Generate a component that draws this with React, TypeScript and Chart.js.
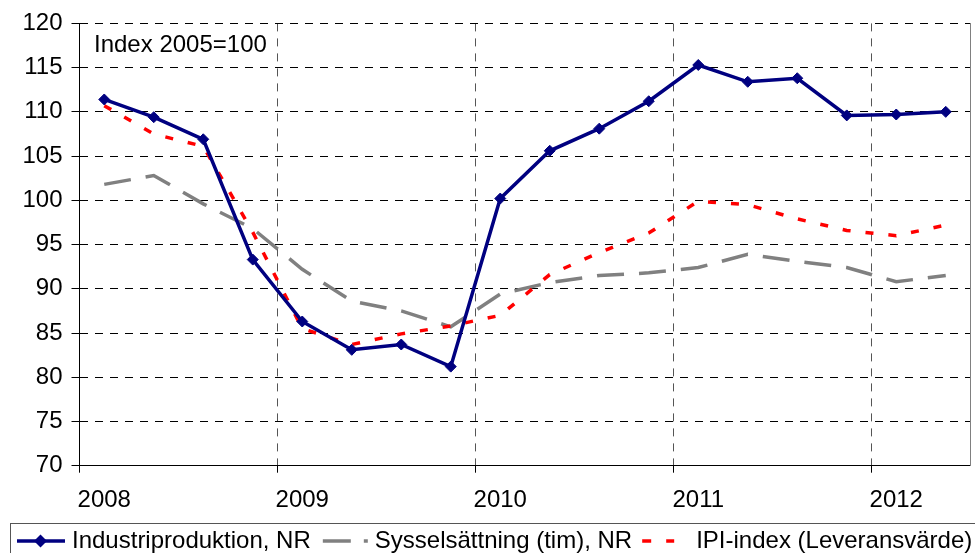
import React, { useEffect, useRef } from 'react';
import { Chart, registerables } from 'chart.js';

Chart.register(...registerables);

// ---- data ----
const categories = [
  '2008K1', '2008K2', '2008K3', '2008K4',
  '2009K1', '2009K2', '2009K3', '2009K4',
  '2010K1', '2010K2', '2010K3', '2010K4',
  '2011K1', '2011K2', '2011K3', '2011K4',
  '2012K1', '2012K2',
];
const industri = [111.4, 109.4, 106.9, 93.3, 86.3, 83.1, 83.7, 81.2, 100.2, 105.6, 108.1, 111.2, 115.3, 113.4, 113.8, 109.6, 109.7, 110.0];
const syssel = [101.8, 102.8, 99.6, 96.8, 92.2, 88.6, 87.5, 85.7, 89.4, 90.7, 91.5, 91.8, 92.4, 93.9, 93.1, 92.4, 90.8, 91.5];
const ipi = [110.7, 107.5, 106.1, 96.4, 85.5, 83.7, 84.9, 85.8, 87.0, 91.6, 94.1, 96.3, 99.9, 99.5, 97.9, 96.6, 96.0, 97.2];
const seriesNames = ['Industriproduktion, NR', 'Sysselsättning (tim), NR', 'IPI-index (Leveransvärde)'];
const yMin = 70;
const yMax = 120;
const yStep = 5;
const annotationText = 'Index 2005=100';

const FONT = '"Liberation Sans", Arial, Helvetica, sans-serif';
const BLUE = '#000080';
const GRAY = '#808080';
const RED = '#FF0000';

function makeSymbol(kind: number): HTMLCanvasElement {
  const c = document.createElement('canvas');
  c.width = 92;
  c.height = 16;
  const g = c.getContext('2d')!;
  const off = 23;
  const y = 8;
  g.lineWidth = 3.5;
  g.lineCap = 'butt';
  const seg = (a: number, b: number, col: string) => {
    g.strokeStyle = col;
    g.beginPath();
    g.moveTo(off + a, y);
    g.lineTo(off + b, y);
    g.stroke();
  };
  if (kind === 0) {
    seg(3, 51, BLUE);
    const cx = off + 26.5;
    const r = 6.5;
    g.fillStyle = BLUE;
    g.beginPath();
    g.moveTo(cx, y - r);
    g.lineTo(cx + r, y);
    g.lineTo(cx, y + r);
    g.lineTo(cx - r, y);
    g.closePath();
    g.fill();
  } else if (kind === 1) {
    seg(6, 34, GRAY);
    seg(47, 51, GRAY);
  } else {
    seg(4, 13, RED);
    seg(28, 36, RED);
  }
  return c;
}

export default function App() {
  const ref = useRef<HTMLCanvasElement | null>(null);

  useEffect(() => {
    if (!ref.current) return;
    const symbols = [makeSymbol(0), makeSymbol(1), makeSymbol(2)];
    const colors = [BLUE, GRAY, RED];

    const extras = {
      id: 'extras',
      afterDraw(chart: any) {
        const { ctx, chartArea } = chart;
        ctx.save();
        // annotation text
        ctx.font = `24px ${FONT}`;
        ctx.fillStyle = '#000';
        ctx.textBaseline = 'alphabetic';
        ctx.textAlign = 'left';
        ctx.fillText(annotationText, chartArea.left + 14.5, chartArea.top + 28.5);
        // legend frame
        const lg = chart.legend;
        ctx.strokeStyle = '#555';
        ctx.lineWidth = 1;
        ctx.strokeRect(10.5, Math.round(lg.top) + 0.5, 1000, 80);
        ctx.restore();
      },
    };

    const chart = new Chart(ref.current, {
      type: 'line',
      data: {
        labels: categories,
        datasets: [
          {
            label: seriesNames[0],
            data: industri,
            borderColor: BLUE,
            backgroundColor: BLUE,
            borderWidth: 3.5,
            pointStyle: 'rectRot',
            pointRadius: 5.5,
            pointBorderWidth: 1,
            pointBackgroundColor: BLUE,
            pointBorderColor: BLUE,
            tension: 0,
            order: 0,
          },
          {
            label: seriesNames[1],
            data: syssel,
            borderColor: GRAY,
            backgroundColor: GRAY,
            borderWidth: 3.5,
            borderDash: [27, 15],
            pointRadius: 0,
            tension: 0,
            order: 2,
          },
          {
            label: seriesNames[2],
            data: ipi,
            borderColor: RED,
            backgroundColor: RED,
            borderWidth: 3.5,
            borderDash: [8, 15],
            pointRadius: 0,
            tension: 0,
            order: 1,
          },
        ],
      },
      options: {
        animation: false,
        responsive: false,
        events: [],
        layout: { padding: { left: 8, right: 0, top: 22.5, bottom: 0 } },
        font: { family: FONT, size: 24 },
        plugins: {
          tooltip: { enabled: false },
          legend: {
            display: true,
            position: 'bottom',
            align: 'start',
            maxHeight: 30,
            labels: {
              usePointStyle: true,
              pointStyleWidth: 46,
              boxHeight: 24,
              padding: 6,
              color: '#000',
              font: { family: FONT, size: 24 },
              generateLabels: () =>
                seriesNames.map((name, i) => ({
                  text: name,
                  fillStyle: colors[i],
                  strokeStyle: colors[i],
                  lineWidth: 0,
                  pointStyle: symbols[i],
                  hidden: false,
                  datasetIndex: i,
                  fontColor: '#000',
                })),
            },
          },
        },
        scales: {
          x: {
            type: 'category',
            offset: true,
            grid: {
              offset: true,
              color: (c: any) => (c.index % 4 === 0 && c.index > 0 && c.index < categories.length ? '#555' : 'rgba(0,0,0,0)'),
              tickColor: (c: any) => (c.index % 4 === 0 ? '#000' : 'rgba(0,0,0,0)'),
              tickLength: 7,
              lineWidth: 1,
              tickBorderDash: [],
            },
            border: { display: true, color: '#000', width: 1, dash: [8, 7] },
            ticks: {
              autoSkip: false,
              maxRotation: 0,
              minRotation: 0,
              padding: 13.6,
              color: '#000',
              font: { family: FONT, size: 24 },
              callback: function (this: any, value: any, index: number) {
                return index % 4 === 0 ? String(this.getLabelForValue(value)).slice(0, 4) : '';
              },
            },
            afterFit: (s: any) => {
              s.height = 57.3;
            },
          },
          y: {
            type: 'linear',
            min: yMin,
            max: yMax,
            grid: {
              color: '#000',
              tickColor: '#000',
              tickLength: 8,
              lineWidth: 1,
              tickBorderDash: [],
            },
            border: { display: true, color: '#000', width: 1, dash: [8, 7] },
            ticks: {
              stepSize: yStep,
              padding: 9,
              color: '#000',
              font: { family: FONT, size: 24 },
            },
            afterFit: (s: any) => {
              s.width = 71.5;
            },
          },
          y2: {
            type: 'linear',
            position: 'right',
            min: yMin,
            max: yMax,
            grid: { drawOnChartArea: false, drawTicks: false },
            ticks: { display: false },
            border: { display: true, color: '#808080', width: 1 },
            afterFit: (s: any) => {
              s.width = 19.5;
            },
          },
        },
      },
      plugins: [extras],
    } as any);

    return () => chart.destroy();
  }, []);

  return (
    <div
      style={{
        position: 'fixed',
        left: 0,
        top: 0,
        width: 975,
        height: 553,
        overflow: 'hidden',
        background: '#fff',
      }}
    >
      <canvas ref={ref} width={990} height={553} style={{ display: 'block', width: 990, height: 553 }} />
    </div>
  );
}
